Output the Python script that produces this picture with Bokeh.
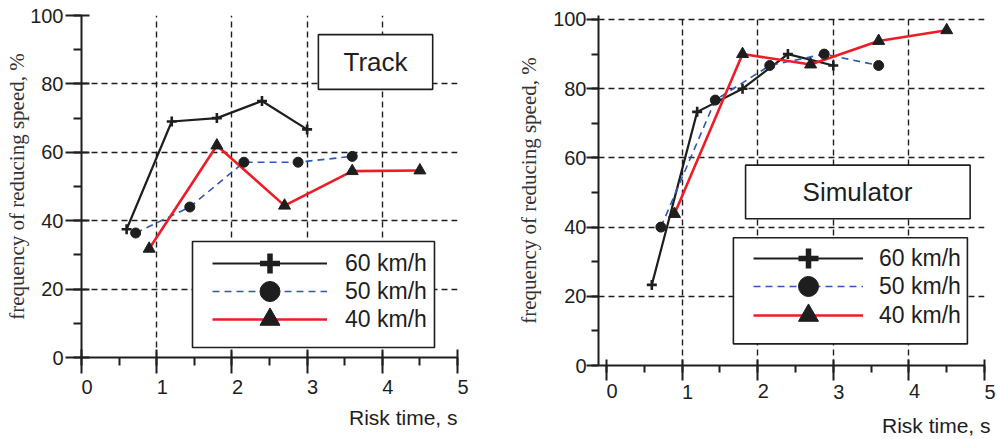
import numpy as np
from bokeh.plotting import figure
from bokeh.models import (Range1d, SingleIntervalTicker, FixedTicker, Legend, LegendItem,
                          ColumnDataSource, BoxAnnotation, Label, Title)
from bokeh.layouts import row
from bokeh.embed import file_html
from bokeh.resources import INLINE

# ---------------- data ----------------
series_labels = ["60 km/h", "50 km/h", "40 km/h"]
x_label = "Risk time, s"
y_label = "frequency of reducing speed, %"
grid_x = [1, 2, 3, 4, 5]
grid_y = [20, 40, 60, 80, 100]

# Track
track_x60 = [0.6, 1.2, 1.8, 2.4, 3.0]
track_y60 = [37.5, 69.0, 70.0, 75.0, 66.7]
track_x50 = [0.72, 1.44, 2.16, 2.88, 3.6]
track_y50 = [36.4, 44.0, 57.1, 57.1, 58.8]
track_x40 = [0.9, 1.8, 2.7, 3.6, 4.5]
track_y40 = [31.8, 62.0, 44.4, 54.5, 54.7]

# Simulator
sim_x60 = [0.6, 1.2, 1.8, 2.4, 3.0]
sim_y60 = [23.3, 73.3, 80.0, 90.0, 86.7]
sim_x50 = [0.72, 1.44, 2.16, 2.88, 3.6]
sim_y50 = [40.0, 76.7, 86.7, 90.0, 86.7]
sim_x40 = [0.9, 1.8, 2.7, 3.6, 4.5]
sim_y40 = [43.8, 90.0, 87.0, 93.8, 96.9]

INK = "#1e1e1e"
STYLES = [
    dict(color=INK, width=2.2, dash="solid", marker="cross", size=10, mlw=2.6, llw=5.5),
    dict(color="#2f57b8", width=1.6, dash="7 5", marker="circle", size=10, mlw=1, llw=1),
    dict(color="#ee1c25", width=2.6, dash="solid", marker="triangle", size=12, mlw=1, llw=1),
]


def make_panel(xs, ys, name, x_start, y_end, fw, fh, mb_left, mb_right, mb_top,
               ytick_in, ytick_out, yminor_out, xtick_in, xtick_out, xminor_out,
               x_std, ylab_standoff, ylab_off, xlab_standoff, xlab_offset,
               box, text_xy, leg_box, leg_x, leg_ys, glyph_w, leg_standoff):
    p = figure(frame_width=fw, frame_height=fh, output_backend="svg", toolbar_location=None,
               x_range=Range1d(x_start, 5.0), y_range=Range1d(0, y_end),
               min_border_left=mb_left, min_border_right=mb_right,
               min_border_top=mb_top, min_border_bottom=0)
    p.outline_line_color = None
    p.background_fill_color = "white"
    p.border_fill_color = "white"

    for ax, tin, tout, mout in ((p.xaxis[0], xtick_in, xtick_out, xminor_out),
                                (p.yaxis[0], ytick_in, ytick_out, yminor_out)):
        ax.axis_line_color = INK
        ax.axis_line_width = 2
        ax.major_tick_line_color = INK
        ax.major_tick_line_width = 2
        ax.minor_tick_line_color = INK
        ax.minor_tick_line_width = 2
        ax.major_tick_in = tin
        ax.major_tick_out = tout
        ax.minor_tick_in = 0
        ax.minor_tick_out = mout
        ax.major_label_text_font = "Liberation Sans"
        ax.major_label_text_font_size = "20px"
        ax.major_label_text_color = INK

    p.xaxis.ticker = SingleIntervalTicker(interval=1, num_minor_ticks=2)
    p.yaxis.ticker = SingleIntervalTicker(interval=20, num_minor_ticks=2)
    # a vanishingly small angle makes the below-axis labels start at their tick
    p.xaxis.major_label_orientation = -1e-6
    p.xaxis.major_label_standoff = x_std
    p.yaxis.major_label_standoff = ylab_off

    p.yaxis.axis_label = y_label
    p.yaxis.axis_label_text_font = "Liberation Serif"
    p.yaxis.axis_label_text_font_style = "normal"
    p.yaxis.axis_label_text_font_size = "21px"
    p.yaxis.axis_label_text_color = "#333333"
    p.yaxis.axis_label_standoff = ylab_standoff

    p.xgrid.ticker = FixedTicker(ticks=grid_x)
    p.ygrid.ticker = FixedTicker(ticks=grid_y)
    for g in (p.xgrid[0], p.ygrid[0]):
        g.grid_line_color = INK
        g.grid_line_width = 1.4
        g.grid_line_dash = "6 4"

    t = Title(text=x_label, align="right", text_font="Liberation Sans",
              text_font_size="21px", text_font_style="normal", text_color=INK,
              standoff=xlab_standoff, offset=xlab_offset)
    p.add_layout(t, "below")

    # title box
    l, r, b, tp = box
    p.add_layout(BoxAnnotation(left=l, right=r, bottom=b, top=tp, fill_color="white",
                               fill_alpha=1, line_color=INK, line_alpha=1, line_width=1.6,
                               level="overlay"))
    p.add_layout(Label(x=text_xy[0], y=text_xy[1], text=name, text_align="center",
                       text_baseline="middle", text_font="Liberation Sans",
                       text_font_size="26px", text_color=INK, level="overlay"))

    for (x, y), st in zip(zip(xs, ys), STYLES):
        src = ColumnDataSource(dict(x=x, y=y))
        p.line("x", "y", source=src, line_color=st["color"], line_width=st["width"],
               line_dash=st["dash"])

    # legend frame
    l, r, b, tp = leg_box
    p.add_layout(BoxAnnotation(left=l, right=r, bottom=b, top=tp, fill_color="white",
                               fill_alpha=1, line_color=INK, line_alpha=1, line_width=1.6,
                               level="overlay"))

    for (x, y), st, lab, ly in zip(zip(xs, ys), STYLES, series_labels, leg_ys):
        src = ColumnDataSource(dict(x=x, y=y))
        p.scatter("x", "y", source=src, marker=st["marker"], size=st["size"],
                  fill_color=INK, line_color=INK, line_width=st["mlw"])
        proxy = ColumnDataSource(dict(x=[np.nan], y=[np.nan]))
        lr = p.line("x", "y", source=proxy, line_color=st["color"], line_width=st["width"],
                    line_dash=st["dash"])
        sr = p.scatter("x", "y", source=proxy, marker=st["marker"], size=20,
                       fill_color=INK, line_color=INK, line_width=st["llw"])
        leg = Legend(items=[LegendItem(label=lab, renderers=[lr, sr])], location=(leg_x, ly),
                     border_line_color=None, background_fill_alpha=0,
                     label_text_font="Liberation Sans", label_text_font_size="23px",
                     label_text_color=INK, glyph_width=glyph_w, glyph_height=50,
                     label_height=50, label_standoff=leg_standoff, padding=0, spacing=0,
                     margin=0, level="overlay")
        p.add_layout(leg)
    return p


p1 = make_panel([track_x60, track_x50, track_x40], [track_y60, track_y50, track_y40],
                "Track", 0.0, 100.0, 376, 342, 81, 43, 15,
                8, 16, 8, 8, 16, 8, 13, -2, 2, 0, 0,
                (3.15, 4.67, 78.4, 94.4), (3.91, 86.3),
                (1.476, 4.694, 2.92, 33.9), 131, (69, 41, 13), 115, 18)

p2 = make_panel([sim_x60, sim_x50, sim_x40], [sim_y60, sim_y50, sim_y40],
                "Simulator", -0.105, 101.15, 386, 350, 98, 13, 15,
                0, 12, 7, 6, 15, 7, 11, 9, 0, 7, -6,
                (1.84, 4.81, 42.4, 57.9), (3.32, 50.1),
                (1.679, 4.774, 6.26, 36.9), 155, (82, 54, 25), 110, 16)

layout = row(p1, p2)
open("out.html", "w").write(file_html(layout, INLINE))
